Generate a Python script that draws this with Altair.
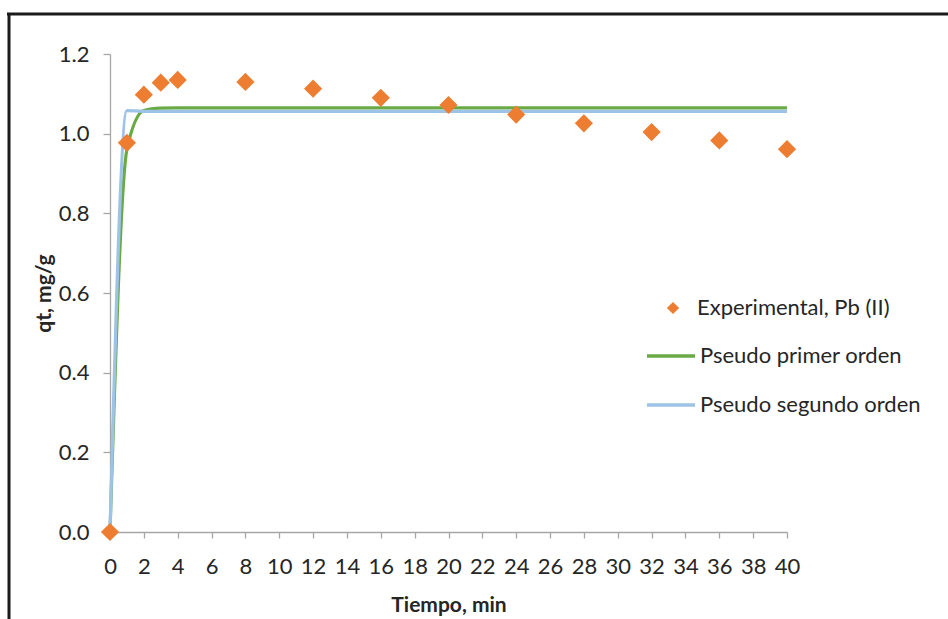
import altair as alt
import pandas as pd

# Experimental adsorption kinetics of Pb(II)
tiempo = [0, 1, 2, 3, 4, 8, 12, 16, 20, 24, 28, 32, 36, 40]
qt_exp = [0.0, 0.977, 1.098, 1.128, 1.135, 1.13, 1.113, 1.09, 1.072, 1.048, 1.026, 1.004, 0.983, 0.961]

# Fitted model curves
qt_primer = [0.0, 0.96, 1.058, 1.064, 1.065, 1.065, 1.065, 1.065, 1.065, 1.065, 1.065, 1.065, 1.065, 1.065]
qt_segundo = [0.0, 1.058, 1.056, 1.056, 1.056, 1.056, 1.056, 1.056, 1.056, 1.056, 1.056, 1.056, 1.056, 1.056]

x_ticks = list(range(0, 41, 2))
y_ticks = [0, 0.2, 0.4, 0.6, 0.8, 1.0, 1.2]

exp_label = "Experimental, Pb (II)"
primer_label = "Pseudo primer orden"
segundo_label = "Pseudo segundo orden"

df_exp = pd.DataFrame({"t": tiempo, "q": qt_exp, "serie": exp_label})
df_mod = pd.concat([
    pd.DataFrame({"t": tiempo, "q": qt_primer, "serie": primer_label}),
    pd.DataFrame({"t": tiempo, "q": qt_segundo, "serie": segundo_label}),
])

FONT = "Lato"
AXIS_GRAY = "#a6a6a6"
TEXT = "#262626"

x_axis = alt.Axis(
    values=x_ticks, title="Tiempo, min", grid=False,
    labelFontSize=22, titleFontSize=21, titleFontWeight="bold",
    labelPadding=18, titlePadding=17, tickSize=6,
    labelOverlap=False, labelFlush=False,
)
y_axis = alt.Axis(
    values=y_ticks, format=".1f", title="qt, mg/g",
    grid=False, labelFontSize=22, titleFontSize=21, titleFontWeight="bold",
    labelPadding=14, titlePadding=4, tickSize=7,
    labelOverlap=False, labelFlush=False,
)
x_enc = alt.X("t:Q", scale=alt.Scale(domain=[0, 40], nice=False), axis=x_axis)
y_enc = alt.Y("q:Q", scale=alt.Scale(domain=[0, 1.2], nice=False), axis=y_axis)

lines = alt.Chart(df_mod).mark_line(strokeWidth=3.2, interpolate="monotone").encode(
    x=x_enc,
    y=y_enc,
    color=alt.Color(
        "serie:N",
        scale=alt.Scale(domain=[primer_label, segundo_label], range=["#6aaa45", "#9dc3e6"]),
        legend=alt.Legend(
            orient="none", legendX=535, legendY=276, title=None,
            symbolType="stroke", symbolSize=2304, symbolStrokeWidth=3.5,
            labelFontSize=22, labelFont=FONT, labelColor=TEXT, labelLimit=400,
            labelOffset=3, rowPadding=12,
        ),
    ),
    order=alt.Order("serie:N", sort="ascending"),
)

points = alt.Chart(df_exp).mark_point(
    shape="diamond", filled=True, size=330, color="#ed7d31", opacity=1
).encode(
    x=x_enc,
    y=y_enc,
    shape=alt.Shape(
        "serie:N",
        scale=alt.Scale(domain=[exp_label], range=["diamond"]),
        legend=alt.Legend(
            orient="none", legendX=552, legendY=243, title=None,
            symbolSize=150, symbolFillColor="#ed7d31", symbolStrokeWidth=0,
            labelFontSize=22, labelFont=FONT, labelColor=TEXT, labelLimit=400,
            labelOffset=13,
        ),
    ),
)

# Outer frame around the figure (top and left edges)
frame_top = alt.Chart(pd.DataFrame({"k": [0]})).mark_rule(
    color="#1a1a1a", strokeWidth=3
).encode(x=alt.value(-103), x2=alt.value(850), y=alt.value(-40))
frame_left = alt.Chart(pd.DataFrame({"k": [0]})).mark_rule(
    color="#1a1a1a", strokeWidth=3
).encode(x=alt.value(-101), y=alt.value(-41), y2=alt.value(580))

chart = alt.layer(lines, points, frame_top, frame_left).resolve_legend(
    color="independent", shape="independent"
).properties(
    width=677,
    height=478,
    autosize=alt.AutoSizeParams(type="none"),
    padding={"left": 110, "top": 54, "right": 161, "bottom": 87},
    background="white",
).configure_view(
    stroke=None
).configure_axis(
    domainColor=AXIS_GRAY, tickColor=AXIS_GRAY, domainWidth=1.3, tickWidth=1.3,
    labelColor=TEXT, titleColor=TEXT, labelFont=FONT, titleFont=FONT,
    labelOverlap=False, labelFlush=False,
)

chart.save("out.html", embed_options={"renderer": "svg", "actions": False})
